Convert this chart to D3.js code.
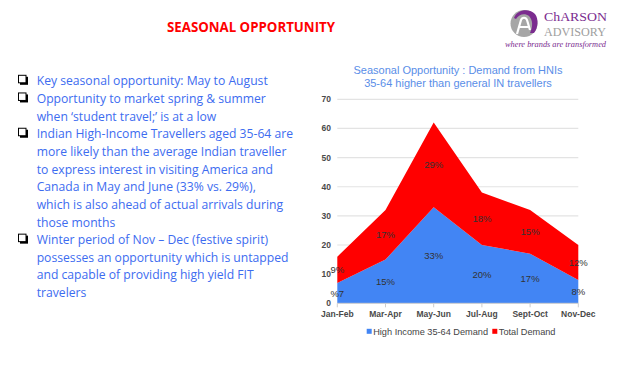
<!DOCTYPE html>
<html><head><meta charset="utf-8">
<script src="https://cdn.jsdelivr.net/npm/d3@7/dist/d3.min.js"></script>
<style>html,body{margin:0;padding:0;background:#fff;}svg{display:block;}</style>
</head><body>
<svg id="c" width="630" height="370"></svg>
<script>
// ---- data ----
const categories = ["Jan-Feb","Mar-Apr","May-Jun","Jul-Aug","Sept-Oct","Nov-Dec"];
const highIncome = [7,15,33,20,17,8];
const totalDemand = [9,17,29,18,15,12];
const highIncomeLabels = ["%7","15%","33%","20%","17%","8%"];
const totalLabels = ["9%","17%","29%","18%","15%","12%"];
const seriesNames = ["High Income 35-64 Demand","Total Demand"];
const yTicks = [0,10,20,30,40,50,60,70];
const chartTitle = ["Seasonal Opportunity : Demand from HNIs","35-64 higher than general IN travellers"];
const slideTitle = "SEASONAL OPPORTUNITY";
const bullets = [
  ["Key seasonal opportunity: May to August"],
  ["Opportunity to market spring & summer","when \u2018student travel;\u2019 is at a low"],
  ["Indian High-Income Travellers aged 35-64 are","more likely than the average Indian traveller","to express interest in visiting America and","Canada in May and June (33% vs. 29%),","which is also ahead of actual arrivals during","those months"],
  ["Winter period of Nov \u2013 Dec (festive spirit)","possesses an opportunity which is untapped","and capable of providing high yield FIT","travelers"]
];

const svg = d3.select("#c");
const colors = ["#4285f4","#ff0000"];

// slide title
svg.append("text").attr("x",251).attr("y",31.5).attr("text-anchor","middle")
  .attr("font-family","'Open Sans',sans-serif").attr("font-weight","bold").attr("font-size",13.5)
  .attr("fill","#ff0000").attr("textLength",168).attr("lengthAdjust","spacingAndGlyphs").text(slideTitle);

// logo
const lg = svg.append("g");
lg.append("circle").attr("cx",524).attr("cy",23.5).attr("r",13.5).attr("fill","#a6a6a6");
lg.append("path").attr("d","M514,18 C517,9 530,8 535,14 C539,19 538,28 534,33 L530,33 C533,27 533,20 529,16 C525,13 519,14 516,19 Z").attr("fill","#7b2c8f");
lg.append("path").attr("d","M517,34 L521,20 C522,17 526,17 527,20 L530,30 M519,27 L529,27").attr("fill","none").attr("stroke","#fff").attr("stroke-width",2.2);
lg.append("text").attr("x",544).attr("y",21).attr("font-family","'Liberation Serif',serif").attr("font-size",13.5)
  .attr("fill","#7b2c8f").attr("textLength",63).attr("lengthAdjust","spacingAndGlyphs").text("ChARSON");
lg.append("text").attr("x",544).attr("y",35.5).attr("font-family","'Liberation Serif',serif").attr("font-size",13.5)
  .attr("fill","#a0a0a0").attr("textLength",62).attr("lengthAdjust","spacingAndGlyphs").text("ADVISORY");
lg.append("text").attr("x",505).attr("y",47).attr("font-family","'Liberation Serif',serif").attr("font-style","italic").attr("font-size",8)
  .attr("fill","#7b2c8f").attr("textLength",101).attr("lengthAdjust","spacingAndGlyphs").text("where brands are transformed");

// bullets
const bFont = "'Open Sans',sans-serif";
let fs = 13;
const probe = svg.append("text").attr("font-family",bFont).attr("font-size",fs).text(bullets[2][0]);
const w = probe.node().getComputedTextLength();
probe.remove();
fs = fs * 256.7 / w;
let lineIdx = 0;
const lh = 17.65, y0 = 85.3;
bullets.forEach(b => {
  const yb = y0 + lineIdx*lh;
  // checkbox glyph (box with shadow)
  svg.append("rect").attr("x",20).attr("y",yb-8.5).attr("width",8).attr("height",8).attr("fill","#000");
  svg.append("rect").attr("x",18.5).attr("y",yb-10).attr("width",7.5).attr("height",7.5).attr("fill","#fff").attr("stroke","#000").attr("stroke-width",1);
  b.forEach(line => {
    svg.append("text").attr("x",36.7).attr("y",y0 + lineIdx*lh).attr("font-family",bFont).attr("font-size",fs)
      .attr("fill","#3d6cf0").text(line);
    lineIdx++;
  });
});

// chart
const x = d3.scalePoint().domain(categories).range([337.3,578.3]);
const y = d3.scaleLinear().domain([0,70]).range([303.3,99.3]);
const af = "'Liberation Sans',Arial,sans-serif";

svg.append("g").selectAll("text").data(chartTitle).join("text")
  .attr("x",458).attr("y",(d,i)=>74+i*12.8).attr("text-anchor","middle")
  .attr("font-family",af).attr("font-size",11).attr("fill","#5a8ee8").text(d=>d);

// gridlines
svg.append("g").selectAll("line").data(yTicks.filter(t=>t>0)).join("line")
  .attr("x1",x.range()[0]).attr("x2",x.range()[1]).attr("y1",d=>y(d)).attr("y2",d=>y(d))
  .attr("stroke","#e3e3e3").attr("stroke-width",1.2);
// y labels
svg.append("g").selectAll("text").data(yTicks).join("text")
  .attr("x",331).attr("y",d=>y(d)+3).attr("text-anchor","end")
  .attr("font-family",af).attr("font-size",8.5).attr("font-weight","bold").attr("fill","#4a4a4a").text(d=>d);

const rows = categories.map((c,i)=>({cat:c, hi:highIncome[i], tot:totalDemand[i]}));
const stack = d3.stack().keys(["hi","tot"])(rows);
const area = d3.area().x(d=>x(d.data.cat)).y0(d=>y(d[0])).y1(d=>y(d[1]));
svg.append("g").selectAll("path").data(stack).join("path")
  .attr("d",area).attr("fill",(d,i)=>colors[i]);

// axis baseline + ticks
svg.append("line").attr("x1",x.range()[0]).attr("x2",x.range()[1]).attr("y1",y(0)).attr("y2",y(0)).attr("stroke","#ccc");
svg.append("g").selectAll("line").data(categories).join("line")
  .attr("x1",d=>x(d)).attr("x2",d=>x(d)).attr("y1",y(0)).attr("y2",y(0)+4).attr("stroke","#ccc");
svg.append("g").selectAll("text").data(categories).join("text")
  .attr("x",d=>x(d)).attr("y",316.5).attr("text-anchor","middle")
  .attr("font-family",af).attr("font-size",8.5).attr("font-weight","bold").attr("fill","#4a4a4a").text(d=>d);

// data labels
const labelSets = [highIncomeLabels,totalLabels];
stack.forEach((s,si)=>{
  svg.append("g").selectAll("text").data(s).join("text")
    .attr("x",d=>x(d.data.cat)).attr("y",d=>y((d[0]+d[1])/2)+3.4).attr("text-anchor","middle")
    .attr("font-family",af).attr("font-size",9.5).attr("fill","#333").text((d,i)=>labelSets[si][i]);
});

// legend
const lgd = svg.append("g");
const legX = [366.7,492.3];
seriesNames.forEach((n,i)=>{
  lgd.append("rect").attr("x",legX[i]).attr("y",328.8).attr("width",5).attr("height",5).attr("fill",colors[i]);
  lgd.append("text").attr("x",legX[i]+6.5).attr("y",334.6).attr("font-family",af).attr("font-size",9.2)
    .attr("fill","#444").text(n);
});
</script>
</body></html>
